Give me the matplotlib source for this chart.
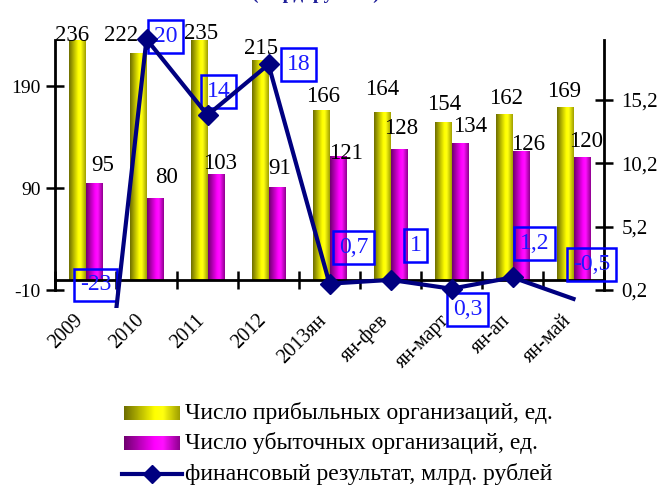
import matplotlib
matplotlib.use('Agg')
import matplotlib.pyplot as plt
import numpy as np
from matplotlib.colors import LinearSegmentedColormap
from matplotlib.patches import Rectangle

plt.rcParams['font.family'] = ['Liberation Serif', 'DejaVu Serif']

# data
categories = ['2009', '2010', '2011', '2012', '2013ян', 'ян-фев', 'ян-март', 'ян-ап', 'ян-май']
profitable = [236, 222, 235, 215, 166, 164, 154, 162, 169]
unprofitable = [95, 80, 103, 91, 121, 128, 134, 126, 120]
fin_result = [-23, 20, 14, 18, 0.7, 1, 0.3, 1.2, -0.5]
series_names = ['Число прибыльных организаций, ед.',
                'Число убыточных организаций, ед.',
                'финансовый результат, млрд. рублей']
left_ticks = [190, 90, -10]
right_ticks = [15.2, 10.2, 5.2, 0.2]

# label placement (pixels): bar labels (dx, dy above bar top), line labels (dx, dy)
prof_off = [(-6, 4), (-18, 18), (1, 7), (0, 12), (1, 14), (0, 23), (1, 18), (1, 16), (-1, 16)]
unprof_off = [(9, 18), (12, 21), (4, 11), (3, 19), (8, 3), (2, 21), (10, 17), (7, 7), (4, 16)]
line_off = [(10, 299), (19, 3), (11, 24), (30, 0), (24, 36), (25, 34), (16, -21), (22, 34), (18, 34)]

W, H = 661, 486
fig = plt.figure(figsize=(W / 100, H / 100), dpi=100)

yellow = LinearSegmentedColormap.from_list('y', [(0, '#6e6e00'), (0.55, '#ffff00'), (0.7, '#ffff10'), (1, '#a0a000')])
magenta = LinearSegmentedColormap.from_list('m', [(0, '#700070'), (0.55, '#ff00ff'), (0.7, '#ff10ff'), (1, '#900090')])
grad = np.linspace(0, 1, 64).reshape(1, -1)

# legend drawn by hand (gradient patches)
lax = fig.add_axes([0, 0, 1, 1])
lax.imshow(grad, cmap=yellow, extent=[124, 180, 420, 406], aspect='auto', interpolation='bilinear')
lax.imshow(grad, cmap=magenta, extent=[124, 180, 450, 436], aspect='auto', interpolation='bilinear')
lax.plot([122, 182], [474, 474], color='#000080', lw=3)
lax.plot([152], [474], color='#000080', marker='D', ms=9)
lax.set_xlim(0, W)
lax.set_ylim(H, 0)
lax.axis('off')
for yy, name in zip([413, 443, 474], series_names):
    lax.text(185, yy, name, fontsize=17, va='center', ha='left')

ax = fig.add_axes([55 / W, (H - 308) / H, 549 / W, 268 / H])
ax.patch.set_visible(False)
x = np.arange(len(categories))
bw = 0.27
for xi, h in zip(x - 0.13, profitable):
    ax.imshow(grad, cmap=yellow, extent=[xi - bw / 2, xi + bw / 2, 0, h], aspect='auto',
              interpolation='bilinear', zorder=2)
for xi, h in zip(x + 0.14, unprofitable):
    ax.imshow(grad, cmap=magenta, extent=[xi - bw / 2, xi + bw / 2, 0, h], aspect='auto',
              interpolation='bilinear', zorder=2)

ax.set_xlim(-0.5, 8.5)
ax.set_ylim(-27.45, 235.3)

for i, (v, off) in enumerate(zip(profitable, prof_off)):
    ax.annotate(str(v), (x[i] - 0.13, v), xytext=off, textcoords='offset pixels',
                ha='center', va='center', fontsize=16.5, annotation_clip=False, zorder=4)
for i, (v, off) in enumerate(zip(unprofitable, unprof_off)):
    ax.annotate(str(v), (x[i] + 0.14, v), xytext=off, textcoords='offset pixels',
                ha='center', va='center', fontsize=16.5, annotation_clip=False, zorder=4)

for i, c in enumerate(categories):
    ax.annotate(c, (x[i], 0), xytext=(-12, -31), textcoords='offset pixels', ha='right', va='top',
                rotation=45, rotation_mode='anchor', fontsize=14.5, annotation_clip=False)

ax.spines['top'].set_visible(False)
ax.spines['right'].set_visible(False)
ax.spines['bottom'].set_position(('data', 0))
ax.spines['left'].set_bounds(-10, 235.3)
for s in ['left', 'bottom']:
    ax.spines[s].set_linewidth(2)
ax.set_xticks(np.arange(-0.5, 9, 1))
ax.tick_params(axis='x', direction='inout', length=13, width=1.8, labelbottom=False)
ax.set_yticks(left_ticks)
ax.set_yticklabels([str(t) for t in left_ticks])
ax.tick_params(axis='y', direction='inout', length=13, width=1.8, labelsize=14, pad=4)

ax2 = ax.twinx()
ax2.set_ylim(-1.22, 19.93)
line, = ax2.plot(x, fin_result, color='#000080', lw=3, marker='D', ms=10,
                 markevery=list(range(8)), zorder=5)
line.set_clip_path(Rectangle((0, 0), 1, 1.2, transform=ax2.transAxes))
for i, (v, off) in enumerate(zip(fin_result, line_off)):
    txt = str(v).replace('.', ',')
    ax2.annotate(txt, (x[i], v), xytext=off, textcoords='offset pixels', ha='center', va='center',
                 fontsize=17, color='#1a1aff', annotation_clip=False,
                 bbox=dict(boxstyle='square,pad=0.25', fc='none', ec='#0000ff', lw=1.8))

for s in ['top', 'left', 'bottom']:
    ax2.spines[s].set_visible(False)
ax2.spines['right'].set_bounds(0.2, 19.93)
ax2.spines['right'].set_linewidth(2)
ax2.set_yticks(right_ticks)
ax2.set_yticklabels([str(t).replace('.', ',') for t in right_ticks])
ax2.tick_params(axis='y', direction='inout', length=13, width=1.8, labelsize=15, pad=6)

# title line above the chart is cut off in the source picture, only its lower edge shows
fig.text(316 / W, 1 + 1 / H, '(млрд. рублей)', ha='center', va='baseline', fontsize=14,
         fontweight='bold', color='#1f1f99')

fig.savefig('out.png', dpi=100)
